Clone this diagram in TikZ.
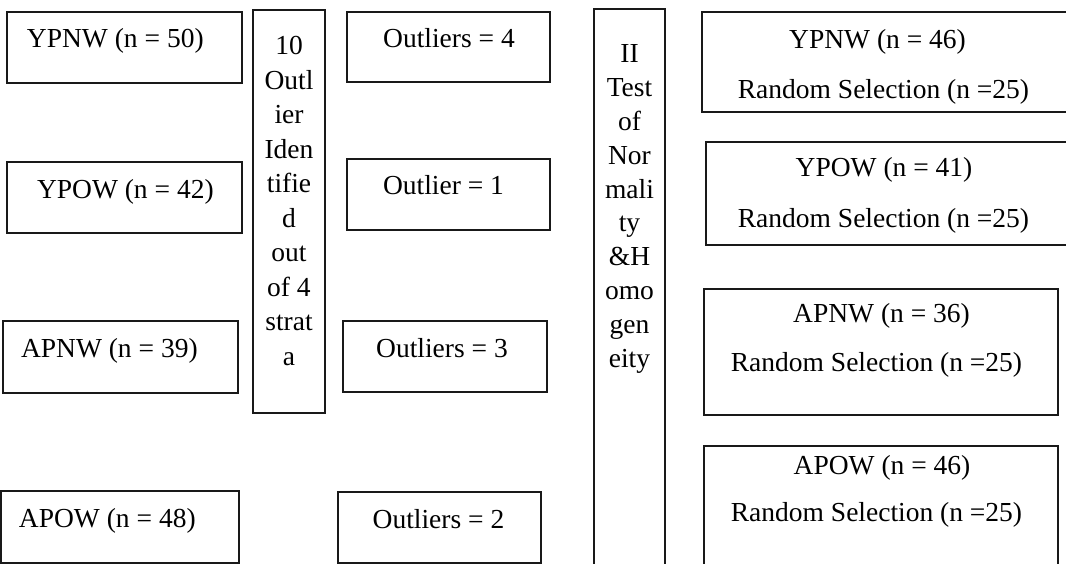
\documentclass[tikz,border=0pt]{standalone}
\usepackage{fontspec}
\setmainfont{Liberation Serif}
\tikzset{
  box/.style={draw=black!90, line width=1.3pt, rectangle, inner sep=0pt, outer sep=0pt, anchor=north west},
  txt/.style={inner sep=0pt, outer sep=0pt, font=\fontsize{27.5}{34.5}\selectfont},
}
\newcommand{\stack}[1]{\begin{tabular}[t]{@{}c@{}}#1\end{tabular}}
\begin{document}
\begin{tikzpicture}[x=1pt,y=-1pt]
\useasboundingbox (0,0) rectangle (1066,564);
\begin{scope}
\clip (0,0) rectangle (1066,564);

% column 1: strata
\node[box, minimum width=235pt, minimum height=71pt] (s1) at (7,12) {};
\node[box, minimum width=235pt, minimum height=71pt] (s2) at (7,162) {};
\node[box, minimum width=235pt, minimum height=72pt] (s3) at (3,321) {};
\node[box, minimum width=238pt, minimum height=72pt] (s4) at (1,491) {};
\node[txt, anchor=base west] (s1t) at (27,48) {YPNW (n = 50)};
\node[txt, anchor=base west] (s2t) at (37,199) {YPOW (n = 42)};
\node[txt, anchor=base west] (s3t) at (21,357) {APNW (n = 39)};
\node[txt, anchor=base west] (s4t) at (19,527) {APOW (n = 48)};

% column 2: outlier step
\node[box, minimum width=72pt, minimum height=403pt] (ol) at (253,10) {};
\node[txt, anchor=base] (olt) at (289,55)
  {\stack{10\\Outl\\ier\\Iden\\tifie\\d\\out\\of 4\\strat\\a}};

% column 3: outliers per stratum
\node[box, minimum width=203pt, minimum height=70pt] (o1) at (347,12) {};
\node[box, minimum width=203pt, minimum height=71pt] (o2) at (347,159) {};
\node[box, minimum width=204pt, minimum height=71pt] (o3) at (343,321) {};
\node[box, minimum width=203pt, minimum height=71pt] (o4) at (338,492) {};
\node[txt, anchor=base] (o1t) at (449,48) {Outliers = 4};
\node[txt, anchor=base] (o2t) at (443.5,195) {Outlier = 1};
\node[txt, anchor=base] (o3t) at (442,357) {Outliers = 3};
\node[txt, anchor=base] (o4t) at (438.5,528) {Outliers = 2};

% column 4: normality and homogeneity step
\node[box, minimum width=71pt, minimum height=620pt] (nh) at (594,9) {};
\node[txt, anchor=base, font=\fontsize{27.5}{33.8}\selectfont] (nht) at (629.5,63)
  {\stack{II\\Test\\of\\Nor\\mali\\ty\\\&H\\omo\\gen\\eity}};

% column 5: random selection per stratum
\node[box, minimum width=420pt, minimum height=100pt] (r1) at (702,12) {};
\node[box, minimum width=420pt, minimum height=103pt] (r2) at (706,142) {};
\node[box, minimum width=354pt, minimum height=126pt] (r3) at (704,289) {};
\node[box, minimum width=354pt, minimum height=200pt] (r4) at (704,446) {};
\node[txt, anchor=base] (r1a) at (877.5,49) {YPNW (n = 46)};
\node[txt, anchor=base] (r1b) at (883.5,99) {Random Selection (n =25)};
\node[txt, anchor=base] (r2a) at (884,177) {YPOW (n = 41)};
\node[txt, anchor=base] (r2b) at (883.5,228) {Random Selection (n =25)};
\node[txt, anchor=base] (r3a) at (881.5,322) {APNW (n = 36)};
\node[txt, anchor=base] (r3b) at (876.5,371) {Random Selection (n =25)};
\node[txt, anchor=base] (r4a) at (882,474) {APOW (n = 46)};
\node[txt, anchor=base] (r4b) at (876.5,521) {Random Selection (n =25)};
\end{scope}
\end{tikzpicture}
\end{document}
